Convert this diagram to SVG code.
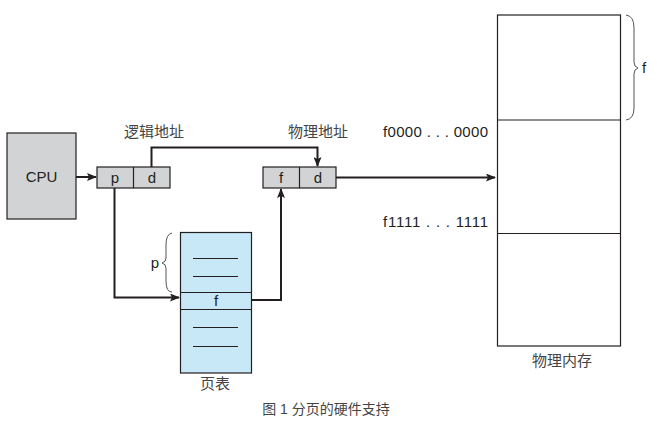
<svg xmlns="http://www.w3.org/2000/svg" width="657" height="425" viewBox="0 0 657 425">
<style>
text{font-family:"Liberation Sans","Noto Sans CJK SC",sans-serif;fill:#231f20}
.lb{font-size:15px}
.cn{font-size:15px;fill:#444}
.box{fill:#d1d3d4;stroke:#231f20;stroke-width:1.2}
.pt{fill:#c8e8f8;stroke:#231f20;stroke-width:1.2}
.ln{fill:none;stroke:#231f20;stroke-width:1.2}
.con{fill:none;stroke:#231f20;stroke-width:2}
.br{fill:none;stroke:#555;stroke-width:1}
</style>
<defs>
<marker id="ah" markerWidth="10" markerHeight="8" refX="9" refY="4" orient="auto" markerUnits="userSpaceOnUse">
<path d="M0,0 L10,4 L0,8 L2,4 Z" fill="#231f20"/>
</marker>
</defs>
<g id="cpu">
<rect class="box" x="7" y="133" width="69" height="86"/>
<text class="lb" x="41.5" y="182" text-anchor="middle">CPU</text>
</g>
<g id="logical">
<rect class="box" x="97" y="167" width="73" height="21"/>
<line class="ln" x1="133.5" y1="167" x2="133.5" y2="188"/>
<text class="lb" x="115" y="183" text-anchor="middle">p</text>
<text class="lb" x="152" y="183" text-anchor="middle">d</text>
<text class="cn" x="154" y="137" text-anchor="middle">逻辑地址</text>
</g>
<g id="physical">
<rect class="box" x="263" y="167" width="73" height="21"/>
<line class="ln" x1="299.5" y1="167" x2="299.5" y2="188"/>
<text class="lb" x="281" y="183" text-anchor="middle">f</text>
<text class="lb" x="318" y="183" text-anchor="middle">d</text>
<text class="cn" x="318" y="137" text-anchor="middle">物理地址</text>
</g>
<g id="pagetable">
<rect class="pt" x="180.5" y="232.5" width="71" height="140.5"/>
<line class="ln" x1="180.5" y1="292.5" x2="251.5" y2="292.5"/>
<line class="ln" x1="180.5" y1="309.5" x2="251.5" y2="309.5"/>
<line class="ln" x1="193" y1="258.5" x2="238" y2="258.5"/>
<line class="ln" x1="193" y1="276.5" x2="238" y2="276.5"/>
<line class="ln" x1="193" y1="327.5" x2="238" y2="327.5"/>
<line class="ln" x1="193" y1="346.5" x2="238" y2="346.5"/>
<text class="lb" x="216" y="306" text-anchor="middle">f</text>
<path class="br" d="M172,233 Q166,234 166,245 L166,258 Q166,262 162,263 Q166,264 166,268 L166,281 Q166,292 172,292"/>
<text class="lb" x="155" y="268" text-anchor="middle">p</text>
<text class="cn" x="215" y="389" text-anchor="middle">页表</text>
</g>
<g id="memory">
<rect class="ln" x="497.5" y="15" width="123" height="331"/>
<line class="ln" x1="497.5" y1="120" x2="620.5" y2="120"/>
<line class="ln" x1="497.5" y1="233.5" x2="620.5" y2="233.5"/>
<path class="br" d="M626,15 Q634,16 634,28 L634,62 Q634,67 638,68 Q634,69 634,74 L634,108 Q634,119 626,120"/>
<text class="lb" x="644" y="73" text-anchor="middle">f</text>
<text class="lb" x="383" y="137" textLength="105" lengthAdjust="spacing">f0000 . . . 0000</text>
<text class="lb" x="383" y="227" textLength="105" lengthAdjust="spacing">f1111 . . . 1111</text>
<text class="cn" x="562" y="366" text-anchor="middle">物理内存</text>
</g>
<g id="connectors">
<line class="con" x1="76" y1="177" x2="96" y2="177" marker-end="url(#ah)"/>
<polyline class="con" points="151.5,167 151.5,147.5 317.5,147.5 317.5,166" marker-end="url(#ah)"/>
<polyline class="con" points="114.5,188 114.5,297.5 179,297.5" marker-end="url(#ah)"/>
<polyline class="con" points="251.5,300 281,300 281,189" marker-end="url(#ah)"/>
<line class="con" x1="336" y1="177.5" x2="495" y2="177.5" marker-end="url(#ah)"/>
</g>
<text x="326" y="414" text-anchor="middle" style="font-size:14px;fill:#444">图 1 分页的硬件支持</text>
</svg>
